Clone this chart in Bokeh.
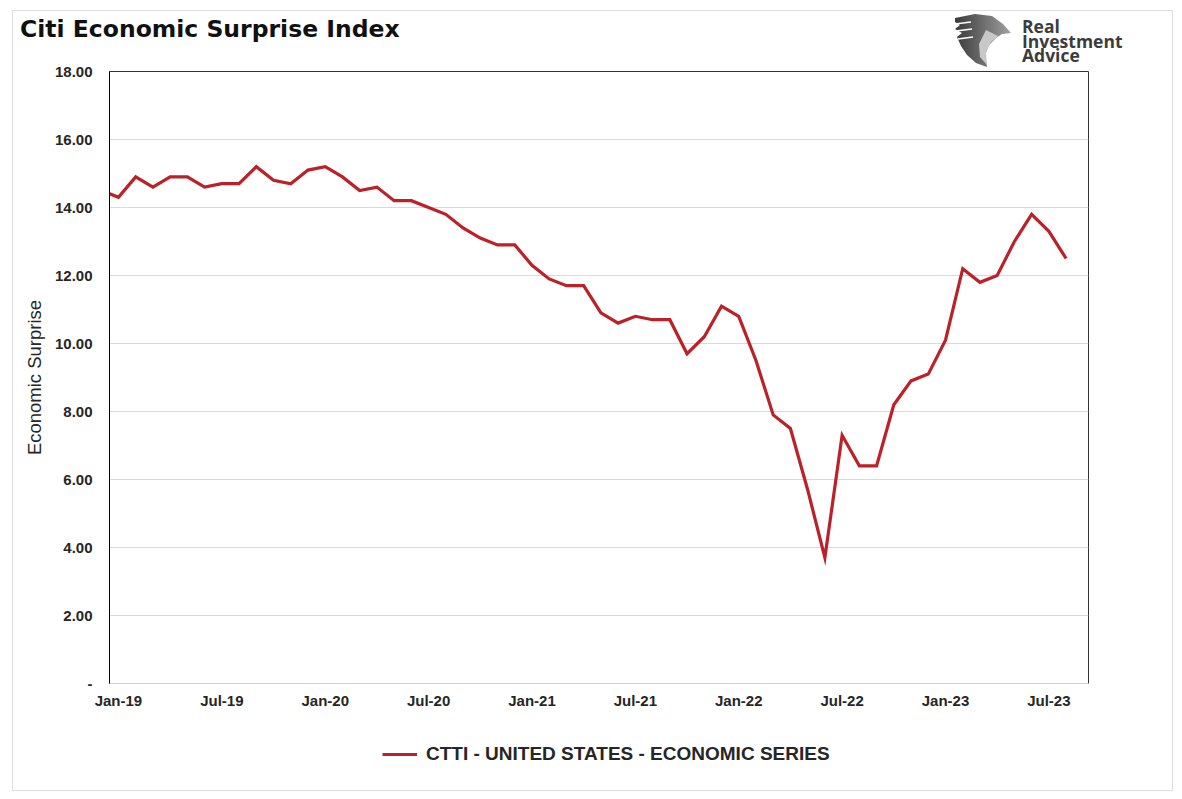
from bokeh.plotting import figure
from bokeh.layouts import column
from bokeh.models import (ColumnDataSource, Range1d, FixedTicker, Div,
                          Legend, LegendItem)
from bokeh.embed import file_html
from bokeh.resources import INLINE

# Monthly readings, Dec-18 .. Aug-23 (index 0 = Jan-19)
months = ["Dec-18",
          "Jan-19", "Feb-19", "Mar-19", "Apr-19", "May-19", "Jun-19",
          "Jul-19", "Aug-19", "Sep-19", "Oct-19", "Nov-19", "Dec-19",
          "Jan-20", "Feb-20", "Mar-20", "Apr-20", "May-20", "Jun-20",
          "Jul-20", "Aug-20", "Sep-20", "Oct-20", "Nov-20", "Dec-20",
          "Jan-21", "Feb-21", "Mar-21", "Apr-21", "May-21", "Jun-21",
          "Jul-21", "Aug-21", "Sep-21", "Oct-21", "Nov-21", "Dec-21",
          "Jan-22", "Feb-22", "Mar-22", "Apr-22", "May-22", "Jun-22",
          "Jul-22", "Aug-22", "Sep-22", "Oct-22", "Nov-22", "Dec-22",
          "Jan-23", "Feb-23", "Mar-23", "Apr-23", "May-23", "Jun-23",
          "Jul-23", "Aug-23"]
ctti = [14.5,
        14.3, 14.9, 14.6, 14.9, 14.9, 14.6, 14.7, 14.7, 15.2, 14.8, 14.7, 15.1,
        15.2, 14.9, 14.5, 14.6, 14.2, 14.2, 14.0, 13.8, 13.4, 13.1, 12.9, 12.9,
        12.3, 11.9, 11.7, 11.7, 10.9, 10.6, 10.8, 10.7, 10.7, 9.7, 10.2, 11.1,
        10.8, 9.5, 7.9, 7.5, 5.7, 3.7, 7.3, 6.4, 6.4, 8.2, 8.9, 9.1,
        10.1, 12.2, 11.8, 12.0, 13.0, 13.8, 13.3, 12.5]
tick_labels = ["Jan-19", "Jul-19", "Jan-20", "Jul-20", "Jan-21",
               "Jul-21", "Jan-22", "Jul-22", "Jan-23", "Jul-23"]
y_ticks = [0, 2, 4, 6, 8, 10, 12, 14, 16, 18]

TITLE = "Citi Economic Surprise Index"
LOGO_LINES = ["Real", "Investment", "Advice"]
SERIES = "CTTI - UNITED STATES - ECONOMIC SERIES"

FONT = "Liberation Sans"
RED = "#BC2029"
INK = "#262626"
W = 1174
HEAD_H = 62

# ---------------- header: title + logo (plain html) ----------------
eagle = """
<svg style="position:absolute;left:0;top:0;overflow:visible" width="1174" height="62">
  <defs><linearGradient id="eg" x1="0" x2="1" y1="0" y2="0">
    <stop offset="0" stop-color="#3a3a3a"/><stop offset="1" stop-color="#a0a0a0"/>
  </linearGradient></defs>
  <polygon fill="url(#eg)" points="955,18 975,14 992,16 1003,24 1011,33 1002,34
    996,38 989,45 985,55 987,67 976,63 967,55 961,46 957,37 962,33 955,29 960,25 955,22"/>
  <polygon fill="#c8c8c8" points="986,30 998,36 991,42 986,52 987,65 980,57 979,44"/>
  <path d="M955 24 L971 22 M956 31 L972 29 M958 39 L973 37" stroke="#ffffff" stroke-width="1.5"/>
</svg>"""
frame_box = ('<div style="position:absolute;left:12px;top:10px;width:1161px;'
             'height:781px;border:1px solid #dedede;pointer-events:none"></div>')
title_html = ('<span style="position:absolute;left:20px;top:16px;white-space:nowrap;'
              'font-family:\'DejaVu Sans\';font-weight:bold;font-size:23.5px;'
              'line-height:27px;color:#111111">%s</span>' % TITLE)
logo_html = ('<span style="position:absolute;left:1022px;top:19px;white-space:nowrap;'
             'font-family:\'Open Sans\';font-weight:bold;font-size:17.5px;'
             'line-height:14.5px;color:#3c3c3c">%s</span>' % "<br>".join(LOGO_LINES))
header = Div(text='<div style="position:relative;width:%dpx;height:%dpx;">%s%s%s%s</div>'
             % (W, HEAD_H, frame_box, eagle, title_html, logo_html),
             width=W, height=HEAD_H, margin=0,
             styles={"overflow": "visible"})

# ---------------- main chart ----------------
source = ColumnDataSource(dict(
    x=[i - 1 for i in range(len(ctti))],
    y=ctti,
    month=months))

p = figure(output_backend="svg", toolbar_location=None,
           frame_width=979, frame_height=612,
           min_border_left=109, min_border_right=W - 109 - 979,
           min_border_top=71 - HEAD_H, min_border_bottom=35,
           x_range=Range1d(-0.52, 56.3), y_range=Range1d(0, 18),
           background_fill_color="white", border_fill_alpha=0)

p.line("x", "y", source=source, line_color=RED, line_width=3.2,
       line_join="miter")

p.xgrid.grid_line_color = None
p.ygrid.grid_line_color = "#d9d9d9"
p.ygrid.grid_line_width = 1
p.outline_line_color = "#333333"
p.outline_line_width = 1

# x axis
x_pos = [tick_labels.index(t) * 6 for t in tick_labels]
p.xaxis.ticker = FixedTicker(ticks=x_pos)
p.xaxis.major_label_overrides = {x: t for x, t in zip(x_pos, tick_labels)}
p.xaxis.axis_line_color = "#d0d0d0"
p.xaxis.major_tick_line_color = None
p.xaxis.minor_tick_line_color = None
p.xaxis.major_label_standoff = 2
p.xaxis.major_label_text_font = FONT
p.xaxis.major_label_text_font_style = "bold"
p.xaxis.major_label_text_font_size = "15px"
p.xaxis.major_label_text_color = INK

# y axis
p.yaxis.ticker = FixedTicker(ticks=y_ticks)
p.yaxis.major_label_overrides = {v: ("-" if v == 0 else "%.2f" % v) for v in y_ticks}
p.yaxis.axis_line_color = "black"
p.yaxis.major_tick_line_color = None
p.yaxis.minor_tick_line_color = None
p.yaxis.major_label_standoff = 11
p.yaxis.major_label_text_font = FONT
p.yaxis.major_label_text_font_style = "bold"
p.yaxis.major_label_text_font_size = "15px"
p.yaxis.major_label_text_color = INK
p.yaxis.axis_label = "Economic Surprise"
p.yaxis.axis_label_text_font = FONT
p.yaxis.axis_label_text_font_style = "normal"
p.yaxis.axis_label_text_font_size = "18.5px"
p.yaxis.axis_label_text_color = INK
p.yaxis.axis_label_standoff = 7

# ---------------- footer: legend ----------------
# (its frame lines up with the chart frame, x = 109 .. 1088 on the page)
footer = figure(width=W, height=80, output_backend="svg",
                toolbar_location=None, x_axis_type=None, y_axis_type=None,
                x_range=Range1d(0, 1), y_range=Range1d(0, 1),
                min_border=0, outline_line_color=None,
                background_fill_alpha=0, border_fill_alpha=0)
footer.grid.visible = False
proxy = footer.line(x=[-10, -9], y=[-10, -10], line_color=RED, line_width=3.2)

legend = Legend(items=[LegendItem(label=SERIES, renderers=[proxy])],
                location=(273, 33), orientation="horizontal",
                label_text_font=FONT, label_text_font_style="bold",
                label_text_font_size="19px", label_text_color=INK,
                glyph_width=35, glyph_height=20, label_standoff=9,
                border_line_color=None, background_fill_alpha=0,
                margin=0, padding=0, spacing=0)
footer.add_layout(legend, "center")

page = column(header, p, footer, spacing=0)

open("out.html", "w").write(file_html(page, INLINE))
